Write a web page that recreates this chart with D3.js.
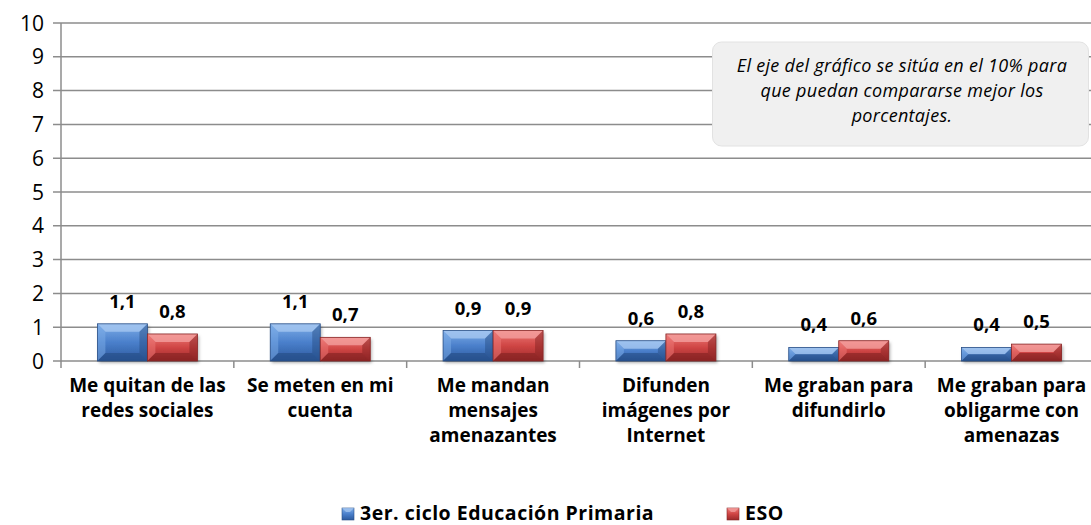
<!DOCTYPE html>
<html><head><meta charset="utf-8">
<script src="https://cdn.jsdelivr.net/npm/d3@7"></script>
<style>html,body{margin:0;padding:0;background:#fff;}svg{display:block;}</style>
</head><body>
<svg id="chart" width="1091" height="525"></svg>
<script>
const categories = [
  ["Me quitan de las","redes sociales"],
  ["Se meten en mi","cuenta"],
  ["Me mandan","mensajes","amenazantes"],
  ["Difunden","imágenes por","Internet"],
  ["Me graban para","difundirlo"],
  ["Me graban para","obligarme con","amenazas"]
];
const seriesNames = ["3er. ciclo Educación Primaria","ESO"];
const primaria = [1.1,1.1,0.9,0.6,0.4,0.4];
const eso = [0.8,0.7,0.9,0.8,0.6,0.5];
const yTicks = [0,1,2,3,4,5,6,7,8,9,10];
const note = ["El eje del gráfico se sitúa en el 10% para","que puedan compararse mejor los","porcentajes."];

(function(){
const svg = d3.select("#chart");
const pL = 61, pR = 1098, pT = 23, pB = 361;
const x = d3.scaleBand().domain(d3.range(categories.length)).range([pL,pR]).paddingInner(0).paddingOuter(0);
const y = d3.scaleLinear().domain([0,10]).range([pB,pT]);
const sub = d3.scaleBand().domain([0,1]).range([0,100]);

const defs = svg.append("defs");
const cols = [
  {id:"gb", top:"#7eaee8", mid:"#4a7fcb", bot:"#2c5a9e", stroke:"#2a4f86", light:"#a9c9f2", dark:"#23497f"},
  {id:"gr", top:"#ee7a78", mid:"#cf4544", bot:"#9c2a2a", stroke:"#862626", light:"#f4a3a1", dark:"#7d1f1f"}
];
cols.forEach(c=>{
  const g = defs.append("linearGradient").attr("id",c.id).attr("x1",0).attr("y1",0).attr("x2",0).attr("y2",1);
  g.append("stop").attr("offset","0%").attr("stop-color",c.top);
  g.append("stop").attr("offset","50%").attr("stop-color",c.mid);
  g.append("stop").attr("offset","100%").attr("stop-color",c.bot);
});
const sh = defs.append("filter").attr("id","shadow").attr("x","-10%").attr("y","-10%").attr("width","130%").attr("height","140%");
sh.append("feDropShadow").attr("dx",1.5).attr("dy",2).attr("stdDeviation",1.5).attr("flood-color","#000").attr("flood-opacity",0.3);

// gridlines
svg.append("g").selectAll("line").data(yTicks).join("line")
  .attr("x1",pL-8).attr("x2",1091).attr("y1",d=>y(d)).attr("y2",d=>y(d))
  .attr("stroke","#8c8c8c").attr("stroke-width",1.5);
svg.append("line").attr("x1",pL).attr("x2",pL).attr("y1",pT).attr("y2",pB+0.5)
  .attr("stroke","#8c8c8c").attr("stroke-width",1.5);
svg.append("g").selectAll("line").data(d3.range(categories.length+1)).join("line")
  .attr("x1",d=>pL + d*x.bandwidth()).attr("x2",d=>pL + d*x.bandwidth())
  .attr("y1",pB).attr("y2",pB+7).attr("stroke","#8c8c8c").attr("stroke-width",1.5);
svg.append("g").selectAll("text").data(yTicks).join("text")
  .attr("x",44).attr("y",d=>y(d)).attr("dy","0.36em").attr("text-anchor","end")
  .attr("font-family","'Open Sans',sans-serif").attr("font-size",21).attr("fill","#000")
  .text(d=>d);

// bars
const series = [primaria, eso];
series.forEach((vals,si)=>{
  const c = cols[si];
  const g = svg.append("g");
  vals.forEach((v,i)=>{
    const bx = x(i) + (x.bandwidth()-100)/2 + sub(si);
    const bw = sub.bandwidth();
    const by = y(v), bh = y(0)-y(v);
    const b = Math.min(8, bh/2);
    const bg = g.append("g");
    bg.append("rect").attr("x",bx).attr("y",by).attr("width",bw).attr("height",bh)
      .attr("fill",`url(#${c.id})`).attr("filter","url(#shadow)");
    bg.append("polygon").attr("points",[[bx,by],[bx+bw,by],[bx+bw-b,by+b],[bx+b,by+b]].join(" "))
      .attr("fill",c.light).attr("opacity",0.75);
    bg.append("polygon").attr("points",[[bx,by],[bx+b,by+b],[bx+b,by+bh-b],[bx,by+bh]].join(" "))
      .attr("fill",c.top).attr("opacity",0.5);
    bg.append("polygon").attr("points",[[bx+bw,by],[bx+bw,by+bh],[bx+bw-b,by+bh-b],[bx+bw-b,by+b]].join(" "))
      .attr("fill",c.dark).attr("opacity",0.45);
    bg.append("polygon").attr("points",[[bx,by+bh],[bx+b,by+bh-b],[bx+bw-b,by+bh-b],[bx+bw,by+bh]].join(" "))
      .attr("fill",c.dark).attr("opacity",0.55);
    bg.append("rect").attr("x",bx).attr("y",by).attr("width",bw).attr("height",bh)
      .attr("fill","none").attr("stroke",c.stroke).attr("stroke-width",0.8);
    svg.append("text").attr("x",bx+bw/2).attr("y",by-16).attr("text-anchor","middle")
      .attr("font-family","'Open Sans',sans-serif").attr("font-weight","bold").attr("font-size",18.5)
      .attr("fill","#000").text(String(v).replace(".",","));
  });
});

// category labels
const cl = svg.append("g");
categories.forEach((lines,i)=>{
  const cx = x(i)+x.bandwidth()/2;
  const t = cl.append("text").attr("x",cx).attr("y",392).attr("text-anchor","middle")
    .attr("font-family","'Open Sans',sans-serif").attr("font-weight","bold").attr("font-size",19).attr("fill","#000");
  lines.forEach((ln,j)=>t.append("tspan").attr("x",cx).attr("y",392+j*25).text(ln));
});

// annotation box
svg.append("rect").attr("x",712.5).attr("y",42).attr("width",376).attr("height",104).attr("rx",9)
  .attr("fill","#f0f0f0").attr("stroke","#e2e2e2").attr("stroke-width",1);
const nt = svg.append("text").attr("text-anchor","middle")
  .attr("font-family","'Open Sans',sans-serif").attr("font-style","italic").attr("font-size",18)
  .attr("letter-spacing",0.3).attr("fill","#000");
note.forEach((ln,j)=>nt.append("tspan").attr("x",902).attr("y",72+j*25).text(ln));

// legend
const lg = svg.append("g").attr("font-family","'Open Sans',sans-serif").attr("font-weight","bold")
  .attr("font-size",19.5).attr("letter-spacing",0.5);
const legX = [342, 727];
seriesNames.forEach((n,i)=>{
  const c = cols[i];
  lg.append("rect").attr("x",legX[i]).attr("y",508).attr("width",12).attr("height",12)
    .attr("fill",`url(#${c.id})`).attr("stroke",c.stroke).attr("stroke-width",0.6);
  lg.append("polygon").attr("points",[[legX[i],508],[legX[i]+12,508],[legX[i]+8,512],[legX[i]+4,512]].join(" "))
    .attr("fill",c.light).attr("opacity",0.7);
  lg.append("text").attr("x",legX[i]+18).attr("y",519.5).attr("fill","#000").text(n);
});
})();
</script>
</body></html>
